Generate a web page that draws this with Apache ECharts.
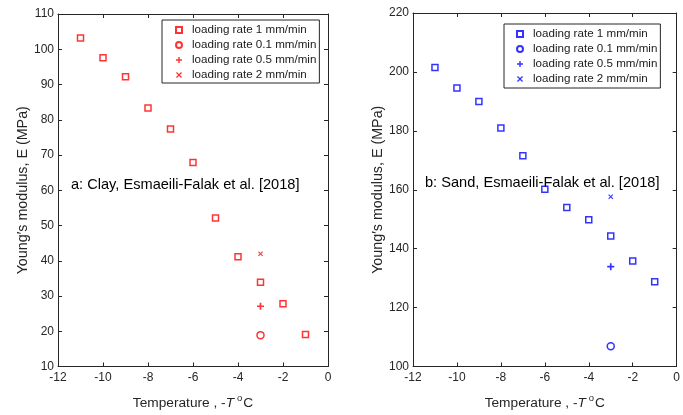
<!DOCTYPE html>
<html>
<head>
<meta charset="utf-8">
<script src="https://cdn.jsdelivr.net/npm/echarts@6/dist/echarts.min.js"></script>
<style>
  html, body { margin: 0; padding: 0; background: #fff; }
  #chart { width: 683px; height: 415px; }
</style>
</head>
<body>
<div id="chart"></div>
<script>
// Temperature (−T °C) and Young's modulus (MPa) per loading rate
const clayTemp1 = [-11, -10, -9, -8, -7, -6, -5, -4, -3, -2, -1];
const clayE1 = [103.2, 97.6, 92.2, 83.3, 77.4, 67.9, 52.1, 41.1, 33.9, 27.8, 19.1];
const clayTemp01 = [-3];
const clayE01 = [18.9];
const clayTemp05 = [-3];
const clayE05 = [27.1];
const clayTemp2 = [-3];
const clayE2 = [42.0];

const sandTemp1 = [-11, -10, -9, -8, -7, -6, -5, -4, -3, -2, -1];
const sandE1 = [201.5, 194.5, 190.0, 181.0, 171.5, 160.2, 154.0, 149.8, 144.3, 135.8, 128.8];
const sandTemp01 = [-3];
const sandE01 = [106.9];
const sandTemp05 = [-3];
const sandE05 = [133.9];
const sandTemp2 = [-3];
const sandE2 = [157.6];

const rateLabels = ['loading rate 1 mm/min', 'loading rate 0.1 mm/min', 'loading rate 0.5 mm/min', 'loading rate 2 mm/min'];
const xTicks = { min: -12, max: 0, interval: 2 };
const clayTicks = { min: 10, max: 110, interval: 10 };
const sandTicks = { min: 100, max: 220, interval: 20 };

const zip = (xs, ys) => xs.map((x, i) => [x, ys[i]]);

const FONT = 'Liberation Sans, Arial, sans-serif';
const INK = '#262626';
const PLUS = 'path://M3.8,0H6.2V3.8H10V6.2H6.2V10H3.8V6.2H0V3.8H3.8Z';
const CROSS = 'path://M1.5,0L5,3.5L8.5,0L10,1.5L6.5,5L10,8.5L8.5,10L5,6.5L1.5,10L0,8.5L3.5,5L0,1.5Z';

function markerStyles(color) {
  return [
    { symbol: 'rect', symbolSize: 6, itemStyle: { color: 'rgba(0,0,0,0)', borderColor: color, borderWidth: 1.5 } },
    { symbol: 'circle', symbolSize: 7, itemStyle: { color: 'rgba(0,0,0,0)', borderColor: color, borderWidth: 1.5 } },
    { symbol: PLUS, symbolSize: 7, itemStyle: { color: color } },
    { symbol: CROSS, symbolSize: 5, itemStyle: { color: color } }
  ];
}

const xName = {
  name: '{t|Temperature , -}{i|T}{s|o}{t|C}',
  nameLocation: 'middle',
  nameGap: 27,
  nameTextStyle: {
    rich: {
      t: { fontFamily: FONT, fontSize: 13.7, color: INK },
      i: { fontFamily: FONT, fontSize: 13.7, color: INK, fontStyle: 'italic', padding: [0, 3, 0, 0] },
      s: { fontFamily: FONT, fontSize: 9.5, color: INK, padding: [0, 1, 9, 0] }
    }
  }
};

function xAxes(gridIndex) {
  const base = {
    type: 'value', gridIndex, min: xTicks.min, max: xTicks.max, interval: xTicks.interval,
    splitLine: { show: false },
    axisLine: { show: true, onZero: false, lineStyle: { color: INK, width: 1 } },
    axisTick: { show: true, inside: true, length: 4, lineStyle: { color: INK } }
  };
  return [
    Object.assign({}, base, xName, {
      position: 'bottom',
      axisLabel: { color: INK, fontFamily: FONT, fontSize: 12, margin: 5, showMaxLabel: true }
    }),
    Object.assign({}, base, { position: 'top', axisLabel: { show: false } })
  ];
}

function yAxes(gridIndex, ticks) {
  const base = {
    type: 'value', gridIndex, min: ticks.min, max: ticks.max, interval: ticks.interval,
    splitLine: { show: false },
    axisLine: { show: true, onZero: false, lineStyle: { color: INK, width: 1 } },
    axisTick: { show: true, inside: true, length: 4, lineStyle: { color: INK } }
  };
  return [
    Object.assign({}, base, {
      position: 'left',
      name: 'Young\u2032s modulus, E (MPa)',
      nameLocation: 'middle',
      nameGap: 23,
      nameTextStyle: { fontFamily: FONT, fontSize: 14.3, color: INK },
      axisLabel: { color: INK, fontFamily: FONT, fontSize: 12, margin: 4 }
    }),
    Object.assign({}, base, { position: 'right', axisLabel: { show: false } })
  ];
}

function buildSeries(prefix, color, axisOffset, sets) {
  const styles = markerStyles(color);
  return sets.map((pts, i) => Object.assign({
    type: 'scatter',
    name: prefix + rateLabels[i],
    xAxisIndex: axisOffset,
    yAxisIndex: axisOffset,
    data: pts,
    silent: true
  }, styles[i]));
}

const claySeries = buildSeries('Clay: ', '#ff0000', 0, [
  zip(clayTemp1, clayE1), zip(clayTemp01, clayE01), zip(clayTemp05, clayE05), zip(clayTemp2, clayE2)
]);
const sandSeries = buildSeries('Sand: ', '#0000ff', 2, [
  zip(sandTemp1, sandE1), zip(sandTemp01, sandE01), zip(sandTemp05, sandE05), zip(sandTemp2, sandE2)
]);

function legendBox(names, left, top, padding) {
  return {
    data: names,
    orient: 'vertical',
    left, top,
    padding,
    itemGap: 1,
    itemWidth: 6,
    itemHeight: 6,
    backgroundColor: '#fff',
    borderColor: INK,
    borderWidth: 1,
    borderRadius: 0,
    selectedMode: false,
    formatter: n => n.replace(/^(Clay|Sand): /, ''),
    textStyle: { fontFamily: FONT, fontSize: 11.6, color: '#1a1a1a', lineHeight: 14, padding: [0, 0, 0, 5] }
  };
}

const chart = echarts.init(document.getElementById('chart'), null, { renderer: 'canvas' });
chart.setOption({
  animation: false,
  backgroundColor: '#fff',
  grid: [
    { left: 58, top: 14, width: 270, height: 356 },
    { left: 413, top: 13, width: 272, height: 357 }
  ],
  xAxis: [...xAxes(0), ...xAxes(1)],
  yAxis: [...yAxes(0, clayTicks), ...yAxes(1, sandTicks)],
  legend: [
    legendBox(claySeries.map(s => s.name), 162, 20, [3, 3, 1, 13]),
    legendBox(sandSeries.map(s => s.name), 504, 24, [3, 3, 2, 12])
  ],
  graphic: [
    { type: 'text', left: 71, top: 177, style: { text: 'a: Clay, Esmaeili-Falak et al. [2018]', fontFamily: FONT, fontSize: 14.6, fill: '#000' } },
    { type: 'text', left: 425, top: 175, style: { text: 'b: Sand, Esmaeili-Falak et al. [2018]', fontFamily: FONT, fontSize: 14.6, fill: '#000' } }
  ],
  series: [...claySeries, ...sandSeries]
});
</script>
</body>
</html>
